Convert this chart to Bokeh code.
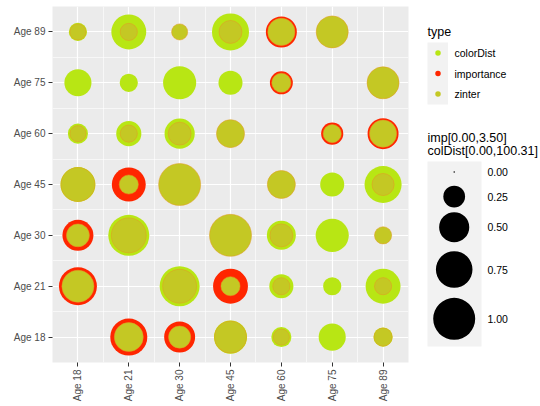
import math
from bokeh.plotting import figure
from bokeh.models import Range1d, FixedTicker, ColumnDataSource
from bokeh.layouts import row
from bokeh.core.properties import value
from bokeh.embed import file_html
from bokeh.resources import INLINE

ages = ["Age 18", "Age 21", "Age 30", "Age 45", "Age 60", "Age 75", "Age 89"]
types = ["colorDist", "importance", "zinter"]
type_colors = ["#B8E614", "#FF2600", "#C4C824"]

# rows: y category Age 18 (bottom) .. Age 89 (top); columns: x category Age 18 .. Age 89
color_dist = [
    [None, None, None, 0.61, 0.21, 0.40, 0.19],
    [None, None, 0.90, None, 0.31, 0.17, 0.68],
    [None, 0.95, None, None, 0.46, 0.61, None],
    [0.68, None, None, None, None, 0.31, 0.77],
    [0.21, 0.34, 0.50, None, None, None, None],
    [0.40, 0.17, 0.61, 0.31, None, None, None],
    [0.17, 0.68, None, 0.77, None, None, None],
]
importance = [
    [None, 0.77, 0.53, None, None, None, None],
    [0.81, None, None, 0.68, None, None, None],
    [0.53, None, None, None, None, None, None],
    [None, 0.64, None, None, None, None, None],
    [None, None, None, None, None, 0.26, 0.53],
    [None, None, None, None, 0.28, None, None],
    [None, None, None, None, 0.53, None, None],
]
zinter = [
    [None, 0.46, 0.26, 0.57, 0.13, None, 0.17],
    [0.57, None, 0.64, 0.19, 0.15, None, 0.15],
    [0.28, 0.68, None, 1.00, 0.28, None, 0.15],
    [0.64, 0.19, 1.00, None, 0.43, None, 0.26],
    [0.13, 0.15, 0.28, 0.43, None, 0.17, 0.40],
    [None, None, None, None, 0.19, None, 0.57],
    [0.13, 0.15, 0.13, 0.28, 0.40, 0.57, None],
]
size_breaks = [0.0, 0.25, 0.50, 0.75, 1.00]
size_labels = ["0.00", "0.25", "0.50", "0.75", "1.00"]
size_title = ["imp[0.00,3.50]", "colDist[0.00,100.31]"]

D_MIN, D_MAX = 1.5, 42.0


def diam(v):
    return D_MIN + (D_MAX - D_MIN) * math.sqrt(v)


FONT = "Liberation Sans"
TOP, BOTTOM = 6, 44

p = figure(width=418, height=406, output_backend="svg", toolbar_location=None,
           x_range=Range1d(0, len(ages)), y_range=Range1d(0, len(ages)),
           min_border_left=52, min_border_right=10, min_border_top=TOP, min_border_bottom=BOTTOM)
p.background_fill_color = "#EBEBEB"
p.border_fill_color = "white"
p.outline_line_color = None

centers = [i + 0.5 for i in range(len(ages))]
bounds = list(range(len(ages) + 1))
for ax in (p.xaxis[0], p.yaxis[0]):
    ax.ticker = FixedTicker(ticks=centers, minor_ticks=bounds)
    ax.major_label_overrides = {c: a for c, a in zip(centers, ages)}
    ax.axis_line_color = None
    ax.major_tick_line_color = "#333333"
    ax.major_tick_line_width = 1
    ax.major_tick_out = 4
    ax.major_tick_in = 0
    ax.minor_tick_out = 0
    ax.minor_tick_in = 0
    ax.major_label_text_font = FONT
    ax.major_label_text_font_size = "10px"
    ax.major_label_text_color = "#4D4D4D"
    ax.major_label_standoff = 3
p.xaxis.major_label_orientation = math.pi / 2

for g in (p.xgrid[0], p.ygrid[0]):
    g.grid_line_color = "white"
    g.grid_line_width = 1.2
    g.minor_grid_line_color = "white"
    g.minor_grid_line_width = 0.6

for t, mat, col in zip(types, [color_dist, importance, zinter], type_colors):
    xs, ys, ss = [], [], []
    for yi, rowv in enumerate(mat):
        for xi, v in enumerate(rowv):
            if v is None:
                continue
            xs.append(xi + 0.5)
            ys.append(yi + 0.5)
            ss.append(diam(v))
    src = ColumnDataSource(dict(x=xs, y=ys, s=ss))
    if t == "zinter":
        p.scatter("x", "y", size="s", source=src, marker="circle", fill_color=col,
                  line_color="#E39B22", line_width=0.7, line_alpha=0.75)
    else:
        p.scatter("x", "y", size="s", source=src, marker="circle", fill_color=col,
                  line_color=None)

# legend panel (page pixel coordinates); its frame spans page y TOP..406-BOTTOM
leg = figure(width=122, height=406, output_backend="svg", toolbar_location=None,
             x_range=Range1d(418, 540), y_range=Range1d(406 - BOTTOM, TOP),
             x_axis_type=None, y_axis_type=None,
             min_border_left=0, min_border_right=0, min_border_top=TOP, min_border_bottom=BOTTOM)
leg.outline_line_color = None
leg.background_fill_color = "white"
leg.border_fill_color = "white"
leg.xgrid.visible = False
leg.ygrid.visible = False

# colour legend
leg.text(x=[427], y=[31], text=["type"], text_font=value(FONT), text_font_size=value("12.5px"),
         text_color="black", text_baseline="alphabetic", text_align="left")
leg.quad(left=[427], right=[447.5], top=[42], bottom=[104], fill_color="#F2F2F2", line_color=None)
key_y = [52.5, 73, 93.5]
leg.scatter(x=[437.5] * 3, y=key_y, size=5.5, marker="circle", fill_color=type_colors, line_color=None)
leg.text(x=[454] * 3, y=key_y, text=types, text_font=value(FONT), text_font_size=value("10.5px"),
         text_color="black", text_baseline="middle", text_align="left")

# size legend
leg.text(x=[427, 427], y=[137, 150], text=size_title, text_font=value(FONT),
         text_font_size=value("12.5px"), text_color="black", text_baseline="alphabetic",
         text_align="left")
leg.quad(left=[427], right=[481], top=[161], bottom=[346], fill_color="#F2F2F2", line_color=None)
size_y = [171.5, 196, 226.7, 269, 318.3]
leg.scatter(x=[453.7] * 5, y=size_y, size=[diam(v) for v in size_breaks], marker="circle",
            fill_color="black", line_color=None)
leg.text(x=[487] * 5, y=size_y, text=size_labels, text_font=value(FONT),
         text_font_size=value("10.5px"), text_color="black", text_baseline="middle",
         text_align="left")

layout = row(p, leg, spacing=0)
open("out.html", "w").write(file_html(layout, INLINE))
